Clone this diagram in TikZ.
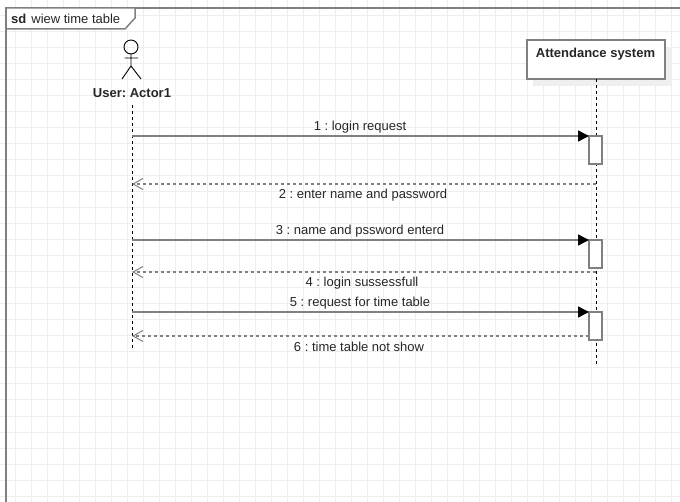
\documentclass[tikz,border=0pt]{standalone}
\usepackage{fontspec}
\setmainfont{Liberation Sans}
\usetikzlibrary{arrows.meta}
\definecolor{framegray}{HTML}{808080}
\definecolor{gridgray}{HTML}{EEEEEE}
\definecolor{shadowgray}{HTML}{EFEFEF}
\frenchspacing
\tikzset{
    msgtext/.style={font=\fontsize{13}{15}\selectfont,text=black!85,inner sep=0pt},
    lifeline/.style={black,line width=1pt,dash pattern=on 3pt off 3pt},
    callmsg/.style={draw=framegray,line width=1.5pt},
    tiphead/.style={-{Triangle[length=11pt,width=11pt,fill=black,color=black]}},
    replymsg/.style={draw=framegray,line width=1.5pt,dash pattern=on 3pt off 3pt,-{Straight Barb[length=10pt,width=11pt,line width=1pt,color=framegray]}},
    activebox/.style={draw=framegray,fill=white,line width=1.8pt,minimum width=13pt,minimum height=28pt,inner sep=0pt,outer sep=0pt}
}
\begin{document}
\begin{tikzpicture}[x=1pt,y=-1pt]
            \useasboundingbox (0,0) rectangle (680,502);
            \fill[white] (0,0) rectangle (680,502);
            % background grid
            \foreach \gx in {15,31,...,671} \draw[gridgray,line width=1pt] (\gx,0) -- (\gx,502);
            \foreach \gy in {0,16,...,496} \draw[gridgray,line width=1pt] (0,\gy) -- (680,\gy);

            % frame and its tab
            \draw[framegray,line width=2pt] (680,8) -- (6,8) -- (6,502);
            \draw[framegray,fill=white,line width=1.5pt] (6,8) -- (135,8) -- (135,18) -- (125,29) -- (6,29) -- cycle;
            \node[msgtext,anchor=west] (frametitle) at (11,19) {\textbf{sd}\hspace{5pt}wiew time table};

            % actor
            \draw[black,line width=.9pt] (131,47) circle (7);
            \draw[black,line width=.9pt] (131,54) -- (131,66) (124.5,58) -- (138,58) (122,79) -- (131,66) -- (141,79);
            \node[msgtext,font=\fontsize{13}{15}\selectfont\bfseries] (actor) at (132,93) {User: Actor1};

            % system box
            \fill[shadowgray] (533,47) rectangle (671,86);
            \node[draw=framegray,fill=white,line width=2pt,minimum width=138pt,minimum height=39pt,inner sep=0pt,outer sep=0pt] (system) at (595.5,59.5) {};
            \node[msgtext,font=\fontsize{13}{15}\selectfont\bfseries] (systemtitle) at (595.5,54) {Attendance system};

            % lifelines
            \coordinate (userend) at (132,348);
            \coordinate (userstart) at (132,105);
            \coordinate (systemend) at (596.5,365);
            \draw[lifeline] (userstart) -- (userend);
            \draw[lifeline] (system.south -| systemend) -- (systemend);

            % activations
            \node[activebox] (act1) at (595.5,150) {};
            \node[activebox] (act2) at (595.5,254) {};
            \node[activebox] (act3) at (595.5,326) {};

            % messages
            \coordinate (u1) at (132,136);
            \coordinate (u2) at (132,184);
            \coordinate (u3) at (132,240);
            \coordinate (u4) at (132,272);
            \coordinate (u5) at (132,312);
            \coordinate (u6) at (132,336);
            \coordinate (s2) at (596,184);
            \coordinate (s4) at (596,272);
            \draw[callmsg,tiphead] (u1) -- (act1.north west);
            \draw[replymsg] (s2) -- (u2);
            \draw[callmsg,tiphead] (u3) -- (act2.north west);
            \draw[replymsg] (s4) -- (u4);
            \draw[callmsg,tiphead] (u5) -- (act3.north west);
            \draw[replymsg] (act3.west |- u6) -- (u6);

            \node[msgtext] (m1) at (360,127) {1 : login request};
            \node[msgtext] (m2) at (363,195) {2 : enter name and password};
            \node[msgtext] (m3) at (360,231) {3 : name and pssword enterd};
            \node[msgtext] (m4) at (362,283) {4 : login sussessfull};
            \node[msgtext] (m5) at (360,303) {5 : request for time table};
            \node[msgtext] (m6) at (359,346.5) {6 : time table not show};
        \end{tikzpicture}
\end{document}
